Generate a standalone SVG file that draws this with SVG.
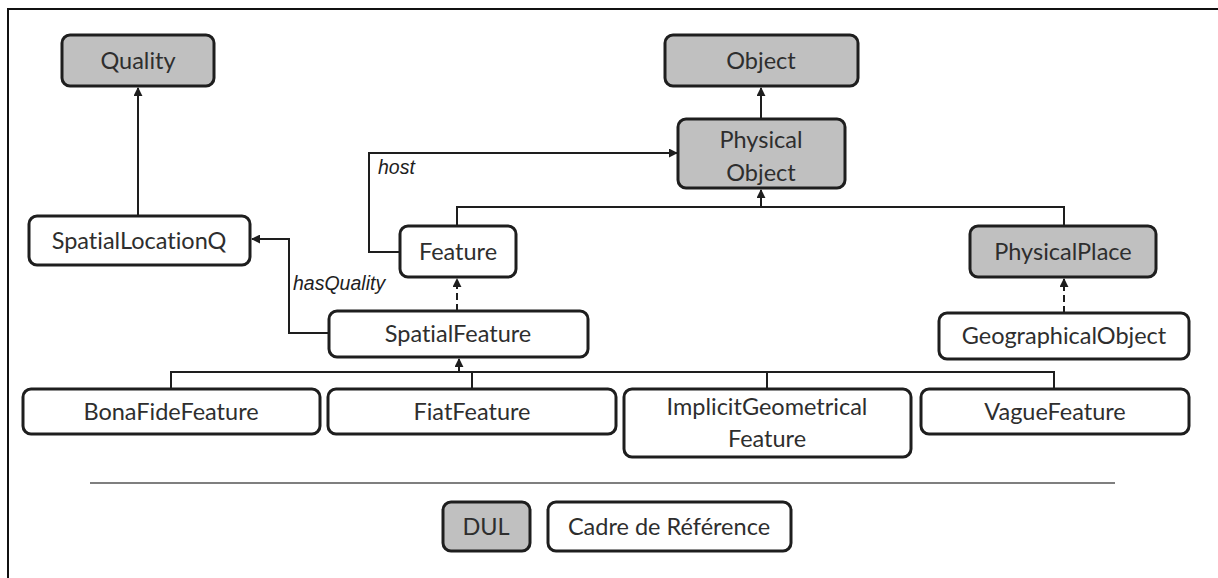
<svg xmlns="http://www.w3.org/2000/svg" width="1218" height="578" viewBox="0 0 1218 578">
<defs>
<style>
.box{fill:#fff;stroke:#1e1e1e;stroke-width:3}
.dul{fill:#c0c0c0;stroke:#1e1e1e;stroke-width:3}
.lbl{font-family:Lato,"Open Sans",sans-serif;font-size:23.5px;fill:#2e2e2e;text-anchor:middle;font-variant-ligatures:none;font-feature-settings:"liga" 0}
.rel{font-family:"Liberation Sans",Arial,sans-serif;font-style:italic;font-size:19.5px;fill:#1e1e1e}
.c{fill:none;stroke:#1e1e1e;stroke-width:2}
.d{stroke-dasharray:7 4}
</style>
<marker id="arr" viewBox="0 0 10 10" refX="9" refY="5" markerWidth="9" markerHeight="9" markerUnits="userSpaceOnUse" orient="auto">
<path d="M0,0 L10,5 L0,10 z" fill="#1e1e1e"/>
</marker>
</defs>
<rect width="1218" height="578" fill="#fff"/>
<path d="M8,578 V9 H1218" fill="none" stroke="#111" stroke-width="2"/>

<g id="connectors">
<path class="c" d="M138,216 V88" marker-end="url(#arr)"/>
<path class="c" d="M329,333 H289 V239 H252" marker-end="url(#arr)"/>
<path class="c" d="M400,252 H369 V153 H677" marker-end="url(#arr)"/>
<path class="c" d="M457,226 V207 H1064 V226"/>
<path class="c" d="M761,207 V190" marker-end="url(#arr)"/>
<path class="c" d="M761,119 V88" marker-end="url(#arr)"/>
<path class="c d" d="M457,311 V279" marker-end="url(#arr)"/>
<path class="c d" d="M1064,313 V279" marker-end="url(#arr)"/>
<path class="c" d="M171,389 V372 H1054 V389 M472,389 V372 M767,389 V372"/>
<path class="c" d="M459,372 V359" marker-end="url(#arr)"/>
<text class="rel" x="378" y="174">host</text>
<text class="rel" x="293" y="290">hasQuality</text>
</g>

<g id="quality"><rect class="dul" x="62" y="35" width="152" height="51" rx="8"/><text class="lbl" x="138" y="69">Quality</text></g>
<g id="object"><rect class="dul" x="665" y="35" width="193" height="51" rx="8"/><text class="lbl" x="761" y="69">Object</text></g>
<g id="physicalobject"><rect class="dul" x="678" y="119" width="167" height="69" rx="8"/><text class="lbl" x="761" y="148">Physical</text><text class="lbl" x="761" y="181">Object</text></g>
<g id="spatiallocationq"><rect class="box" x="29" y="216" width="221" height="49" rx="8"/><text class="lbl" x="139" y="249">SpatialLocationQ</text></g>
<g id="feature"><rect class="box" x="400" y="226" width="116" height="51" rx="8"/><text class="lbl" x="458" y="260">Feature</text></g>
<g id="physicalplace"><rect class="dul" x="970" y="226" width="186" height="51" rx="8"/><text class="lbl" x="1063" y="260">PhysicalPlace</text></g>
<g id="spatialfeature"><rect class="box" x="329" y="311" width="259" height="46" rx="8"/><text class="lbl" x="458" y="342">SpatialFeature</text></g>
<g id="geographicalobject"><rect class="box" x="939" y="313" width="250" height="46" rx="8"/><text class="lbl" x="1064" y="344">GeographicalObject</text></g>
<g id="bonafidefeature"><rect class="box" x="23" y="389" width="297" height="45" rx="8"/><text class="lbl" x="171" y="420">BonaFideFeature</text></g>
<g id="fiatfeature"><rect class="box" x="328" y="389" width="288" height="45" rx="8"/><text class="lbl" x="472" y="420">FiatFeature</text></g>
<g id="implicitgeometricalfeature"><rect class="box" x="624" y="389" width="287" height="68" rx="8"/><text class="lbl" x="767" y="415">ImplicitGeometrical</text><text class="lbl" x="767" y="447">Feature</text></g>
<g id="vaguefeature"><rect class="box" x="921" y="389" width="268" height="45" rx="8"/><text class="lbl" x="1055" y="420">VagueFeature</text></g>

<line x1="90" y1="483" x2="1115" y2="483" stroke="#555" stroke-width="1.5"/>
<g id="legend-dul"><rect class="dul" x="443" y="502" width="87" height="49" rx="8"/><text class="lbl" x="486" y="535">DUL</text></g>
<g id="legend-cadre"><rect class="box" x="548" y="502" width="243" height="49" rx="8"/><text class="lbl" x="669" y="535">Cadre de Référence</text></g>
</svg>
